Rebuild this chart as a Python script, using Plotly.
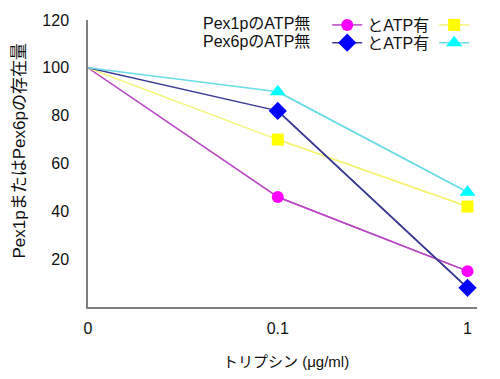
import plotly.graph_objects as go

categories = ["0", "0.1", "1"]
pex1_no_atp = [100, 46, 15]
pex1_atp = [100, 70, 42]
pex6_no_atp = [100, 82, 8]
pex6_atp = [100, 90, 48]
y_ticks = [20, 40, 60, 80, 100, 120]

FONT = "Liberation Sans, Arial, Noto Sans CJK JP, sans-serif"
NB = "\u00a0\u00a0"

series = [
    ("とATP有", pex1_no_atp, "#b848c4", "#ff00ff", "circle", "legend", 12),
    (" ", pex1_atp, "#f4f47a", "#ffff00", "square", "legend", 12),
    ("とATP有", pex6_no_atp, "#3c3c94", "#0000ff", "diamond", "legend2", 14),
    (" ", pex6_atp, "#6cdce4", "#00ffff", "triangle-up", "legend2", 14),
]

fig = go.Figure()
for name, vals, lc, mc, sym, lg, sz in series:
    fig.add_trace(go.Scatter(
        x=categories, y=vals, mode="lines", showlegend=False,
        line=dict(color=lc, width=1.5), hoverinfo="skip",
    ))
    fig.add_trace(go.Scatter(
        x=categories[1:], y=vals[1:], name=name, mode="lines+markers",
        line=dict(color=lc, width=1.5),
        marker=dict(color=mc, symbol=sym, size=sz, line=dict(width=0)),
        legend=lg,
    ))

fig.update_layout(
    width=500, height=379,
    margin=dict(l=80, r=31, t=12, b=80, autoexpand=False),
    plot_bgcolor="white", paper_bgcolor="white",
    font=dict(family=FONT, size=16, color="#111111"),
    showlegend=True,
    legend=dict(
        orientation="h", xref="container", yref="container",
        x=0.386, y=1.0, xanchor="left", yanchor="top",
        title=dict(text="Pex1pのATP無" + NB, side="left", font=dict(size=16)),
        font=dict(size=16), bgcolor="rgba(0,0,0,0)", itemwidth=30,
    ),
    legend2=dict(
        orientation="h", xref="container", yref="container",
        x=0.386, y=0.953, xanchor="left", yanchor="top",
        title=dict(text="Pex6pのATP無" + NB, side="left", font=dict(size=16)),
        font=dict(size=16), bgcolor="rgba(0,0,0,0)", itemwidth=30,
    ),
    xaxis=dict(
        type="category", range=[0, 2.05], showgrid=False, zeroline=False,
        showline=True, linecolor="#808080", linewidth=1.5, ticks="",
        tickfont=dict(size=16), ticklabelstandoff=6,
    ),
    yaxis=dict(
        range=[0, 120], tickvals=y_ticks, showgrid=False, zeroline=False,
        showline=True, linecolor="#808080", linewidth=1.5, ticks="",
        tickfont=dict(size=16), ticklabelstandoff=14,
    ),
    annotations=[
        dict(text="トリプシン (μg/ml)", xref="paper", yref="paper",
             x=0.51, y=-0.19, showarrow=False, xanchor="center", yanchor="middle",
             font=dict(size=15)),
        dict(text="Pex1pまたはPex6pの存在量", xref="paper", yref="paper",
             x=-0.175, y=0.545, showarrow=False, textangle=-90,
             xanchor="center", yanchor="middle", font=dict(size=17)),
    ],
)

fig.write_html("out.html")
